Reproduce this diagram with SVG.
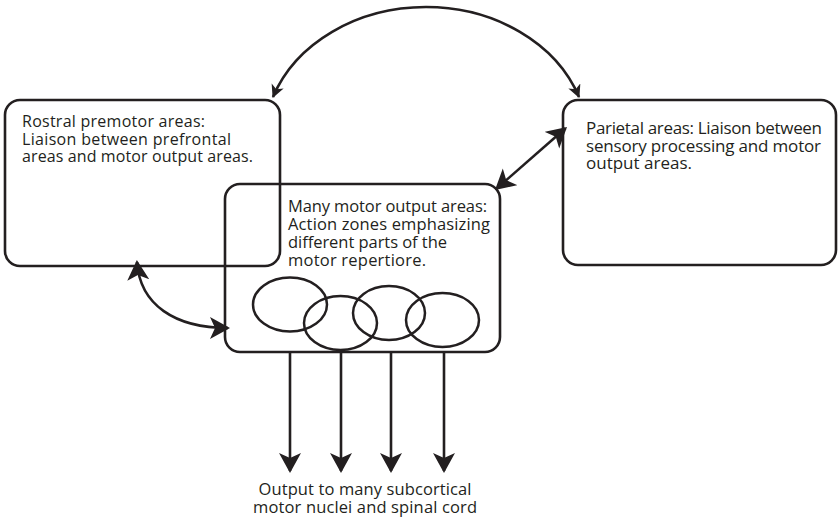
<svg xmlns="http://www.w3.org/2000/svg" width="838" height="522" viewBox="0 0 838 522">
<style>
.box{fill:none;stroke:#231f20;stroke-width:2.6}
.zone{fill:none;stroke:#231f20;stroke-width:2.5}
.ln{fill:none;stroke:#231f20;stroke-width:2.6}
.t{font-family:"Open Sans","Noto Sans","Liberation Sans",sans-serif;font-size:16px;fill:#231f20}
.m{font-size:16.5px}
.p{font-size:17px}
</style>
<defs>
<marker id="big" markerUnits="userSpaceOnUse" markerWidth="24" markerHeight="24" refX="18" refY="11" orient="auto-start-reverse">
<path d="M0,0 L20,11 L0,22 L5,11 Z" fill="#231f20"/>
</marker>
<marker id="small" markerUnits="userSpaceOnUse" markerWidth="16" markerHeight="16" refX="12" refY="6.5" orient="auto-start-reverse">
<path d="M0,0 L13,6.5 L0,13 L3.5,6.5 Z" fill="#231f20"/>
</marker>
</defs>
<rect width="838" height="522" fill="#fff"/>
<g id="rostral">
<rect class="box" x="5" y="100" width="275" height="166" rx="15"/>
<text class="t" x="22" y="127" textLength="183" lengthAdjust="spacing">Rostral premotor areas:</text>
<text class="t" x="22" y="144.5" textLength="209" lengthAdjust="spacing">Liaison between prefrontal</text>
<text class="t" x="22" y="162" textLength="231" lengthAdjust="spacing">areas and motor output areas.</text>
</g>
<g id="parietal">
<rect class="box" x="563" y="100" width="273" height="165" rx="15"/>
<text class="t p" x="586" y="134" textLength="236" lengthAdjust="spacing">Parietal areas: Liaison between</text>
<text class="t p" x="586" y="151.5" textLength="235" lengthAdjust="spacing">sensory processing and motor</text>
<text class="t p" x="586" y="169">output areas.</text>
</g>
<g id="motor">
<rect class="box" x="225" y="184" width="275" height="168" rx="15"/>
<text class="t m" x="288" y="212" textLength="199" lengthAdjust="spacing">Many motor output areas:</text>
<text class="t m" x="288" y="229.5" textLength="202" lengthAdjust="spacing">Action zones emphasizing</text>
<text class="t m" x="288" y="247.5" textLength="159" lengthAdjust="spacing">different parts of the</text>
<text class="t m" x="288" y="266" textLength="138" lengthAdjust="spacing">motor repertiore.</text>
<ellipse class="zone" cx="290" cy="304.5" rx="37" ry="27"/>
<ellipse class="zone" cx="340.5" cy="323" rx="36.5" ry="27"/>
<ellipse class="zone" cx="389" cy="313" rx="36" ry="27"/>
<ellipse class="zone" cx="442.5" cy="320" rx="36.5" ry="27"/>
</g>
<g id="output">
<text class="t m" x="365" y="495" text-anchor="middle" textLength="213" lengthAdjust="spacing">Output to many subcortical</text>
<text class="t m" x="365" y="513" text-anchor="middle" textLength="224" lengthAdjust="spacing">motor nuclei and spinal cord</text>
</g>
<g id="connectors">
<path class="ln" d="M273,97 A162,134 0 0 1 579,97" marker-start="url(#small)" marker-end="url(#small)"/>
<path class="ln" d="M496.5,188.7 L565.5,128.3" marker-start="url(#big)" marker-end="url(#big)"/>
<path class="ln" d="M137,262 C140,305 175,328 228,328" marker-start="url(#big)" marker-end="url(#big)"/>
<path class="ln" d="M290,352 V471" marker-end="url(#big)"/>
<path class="ln" d="M341,352 V471" marker-end="url(#big)"/>
<path class="ln" d="M391,352 V471" marker-end="url(#big)"/>
<path class="ln" d="M444,352 V471" marker-end="url(#big)"/>
</g>
</svg>
